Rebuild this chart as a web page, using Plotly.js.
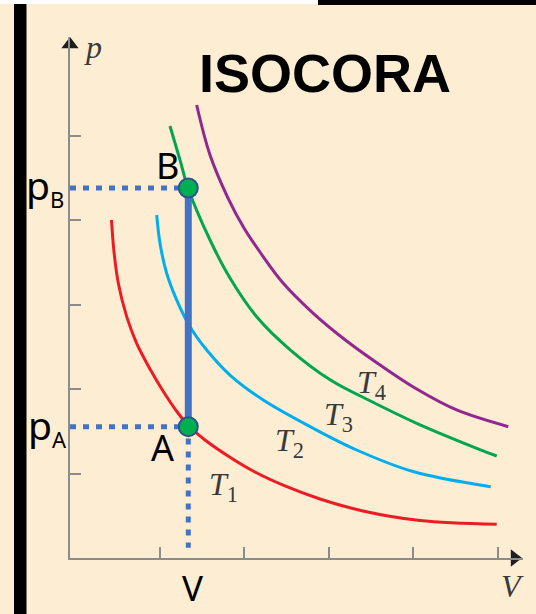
<!DOCTYPE html>
<html>
<head>
<meta charset="utf-8">
<script src="https://cdn.plot.ly/plotly-3.0.1.min.js"></script>
<style>
  html, body { margin: 0; padding: 0; background: #fdeed3; }
  #chart { width: 536px; height: 614px; }
</style>
</head>
<body>
<div id="chart"></div>
<script>
// Isotherms T1..T4 in the p–V plane (arbitrary units)
const volT1 = [0.426, 0.456, 0.507, 0.606, 0.724, 0.882, 1.036, 1.213, 1.331, 1.533, 1.805, 2.124, 2.479, 2.893, 3.402, 4.077, 4.985];
const presT1 = [4.003, 3.624, 3.253, 2.858, 2.543, 2.239, 1.978, 1.717, 1.575, 1.397, 1.208, 1.018, 0.853, 0.699, 0.557, 0.444, 0.399];

const volT2 = [0.961, 1.000, 1.079, 1.198, 1.355, 1.553, 1.828, 2.222, 2.814, 3.328, 3.994, 4.914];
const presT2 = [4.062, 3.727, 3.372, 3.055, 2.739, 2.463, 2.167, 1.871, 1.536, 1.279, 1.024, 0.844];

const volT3 = [1.118, 1.237, 1.331, 1.592, 1.828, 2.144, 2.544, 3.018, 3.491, 4.038, 4.748, 4.985];
const presT3 = [5.116, 4.713, 4.382, 3.766, 3.316, 2.858, 2.463, 2.108, 1.859, 1.595, 1.299, 1.208];

const volT4 = [1.434, 1.592, 1.805, 1.994, 2.183, 2.459, 2.814, 3.209, 3.604, 4.038, 4.511, 5.122];
const presT4 = [5.365, 4.773, 4.263, 3.908, 3.624, 3.253, 2.898, 2.570, 2.286, 2.001, 1.753, 1.555];

// Isochoric transformation A -> B at constant volume V
const isoV = 1.335;
const pA = 1.555;
const pB = 4.382;
const stateNames = ['A', 'B'];

const tickVals = [1, 2, 3, 4, 5];
const isoLabels = ['<i>T</i><sub>1</sub>', '<i>T</i><sub>2</sub>', '<i>T</i><sub>3</sub>', '<i>T</i><sub>4</sub>'];
const isoLabelV = [1.75, 2.53, 3.11, 3.50];
const isoLabelP = [0.85, 1.37, 1.67, 2.06];

const xRange = [-0.065, 5.296];
const yRange = [0, 6.17];

const W = 536, H = 614;
const M = { l: 70, r: 13, t: 37, b: 56 };
const plotW = W - M.l - M.r, plotH = H - M.t - M.b;
const paperX = px => (px - M.l) / plotW;
const paperY = py => (H - M.b - py) / plotH;

const bg = '#fdeed3';
const axisGray = '#8c8c8c';
const isoBlue = '#4472c4';
const serif = '"Liberation Serif", "DejaVu Serif", serif';
const sans = '"Noto Sans", "Open Sans", sans-serif';

function curve(v, p, color) {
  return { x: v, y: p, type: 'scatter', mode: 'lines',
    line: { color: color, width: 3, shape: 'spline', smoothing: 1 }, hoverinfo: 'skip' };
}

const dotted = { color: isoBlue, width: 5, dash: '6px,7px' };

const traces = [
  curve(volT1, presT1, '#ed1c24'),
  curve(volT2, presT2, '#00aeef'),
  curve(volT3, presT3, '#00a651'),
  curve(volT4, presT4, '#92278f'),
  { x: [xRange[0], isoV], y: [pB, pB], mode: 'lines', line: dotted, hoverinfo: 'skip' },
  { x: [xRange[0], isoV], y: [pA, pA], mode: 'lines', line: dotted, hoverinfo: 'skip' },
  { x: [isoV, isoV], y: [pA - 0.14, 0.12], mode: 'lines', line: dotted, hoverinfo: 'skip' },
  { x: [isoV, isoV], y: [pA, pB], mode: 'lines', line: { color: isoBlue, width: 7 }, hoverinfo: 'skip' },
  { x: [isoV, isoV], y: [pA, pB], mode: 'markers', text: stateNames, cliponaxis: false,
    marker: { size: 19, color: '#00b050', line: { color: '#2f528f', width: 2 } }, hoverinfo: 'skip' },
  // arrowheads at the ends of the axes
  { x: [xRange[0]], y: [yRange[1] - 0.09], mode: 'markers', cliponaxis: false,
    marker: { symbol: 'triangle-up', size: 15, color: '#1e1e1e' }, hoverinfo: 'skip' },
  { x: [xRange[1] - 0.1], y: [0], mode: 'markers', cliponaxis: false,
    marker: { symbol: 'triangle-right', size: 15, color: '#1e1e1e' }, hoverinfo: 'skip' }
];

const annotations = [
  { x: isoV, y: pB, text: 'B', showarrow: false, xshift: -21, yshift: 22,
    font: { family: sans, size: 36, color: '#000' } },
  { x: isoV, y: pA, text: 'A', showarrow: false, xshift: -26, yshift: -21,
    font: { family: sans, size: 36, color: '#000' } },
  { x: xRange[0], y: pB, text: 'p<sub><span style="font-size:22px">B</span></sub>', showarrow: false,
    xanchor: 'right', xshift: -4, yshift: 2, font: { family: sans, size: 39, color: '#000' } },
  { x: xRange[0], y: pA, text: 'p<sub><span style="font-size:22px">A</span></sub>', showarrow: false,
    xanchor: 'right', xshift: -1, yshift: 1, font: { family: sans, size: 39, color: '#000' } },
  { x: isoV, y: 0, text: 'V', showarrow: false, yanchor: 'top', xshift: 4, yshift: -4,
    font: { family: sans, size: 35, color: '#000' } },
  { x: xRange[0], y: yRange[1] - 0.12, text: '<i>p</i>', showarrow: false, xanchor: 'left', xshift: 12,
    font: { family: serif, size: 32, color: '#3a3a3a' } },
  { x: xRange[1] - 0.12, y: 0, text: '<i>V</i>', showarrow: false, yanchor: 'top', yshift: -8,
    font: { family: serif, size: 32, color: '#3a3a3a' } }
];
isoLabels.forEach((t, i) => annotations.push({
  x: isoLabelV[i], y: isoLabelP[i], text: t, showarrow: false,
  font: { family: serif, size: 32, color: '#3a3a3a' }
}));

const shapes = [
  { type: 'rect', xref: 'paper', yref: 'paper', x0: paperX(0), x1: paperX(318), y0: paperY(4), y1: paperY(0),
    fillcolor: '#ffffff', line: { width: 0 } },
  { type: 'rect', xref: 'paper', yref: 'paper', x0: paperX(318), x1: paperX(536), y0: paperY(5), y1: paperY(0),
    fillcolor: '#000000', line: { width: 0 } },
  { type: 'rect', xref: 'paper', yref: 'paper', x0: paperX(14), x1: paperX(26.5), y0: paperY(614), y1: paperY(4),
    fillcolor: '#000000', line: { width: 0 } }
];

const axisCommon = {
  showgrid: false, zeroline: false, showline: true, linecolor: axisGray, linewidth: 2,
  ticks: 'inside', ticklen: 11, tickwidth: 2, tickcolor: axisGray,
  tickvals: tickVals, showticklabels: false, fixedrange: true
};

const layout = {
  width: W, height: H,
  margin: { l: M.l, r: M.r, t: M.t, b: M.b, pad: 0 },
  paper_bgcolor: bg, plot_bgcolor: bg,
  showlegend: false,
  title: { text: '<b>ISOCORA</b>', x: 325 / W, y: 1 - 73 / H, xanchor: 'center', yanchor: 'middle',
    font: { family: '"Liberation Sans", Arial, sans-serif', size: 54, color: '#000' } },
  xaxis: Object.assign({ range: xRange }, axisCommon),
  yaxis: Object.assign({ range: yRange }, axisCommon),
  annotations: annotations,
  shapes: shapes
};

Plotly.newPlot('chart', traces, layout, { staticPlot: true, displayModeBar: false });
</script>
</body>
</html>
